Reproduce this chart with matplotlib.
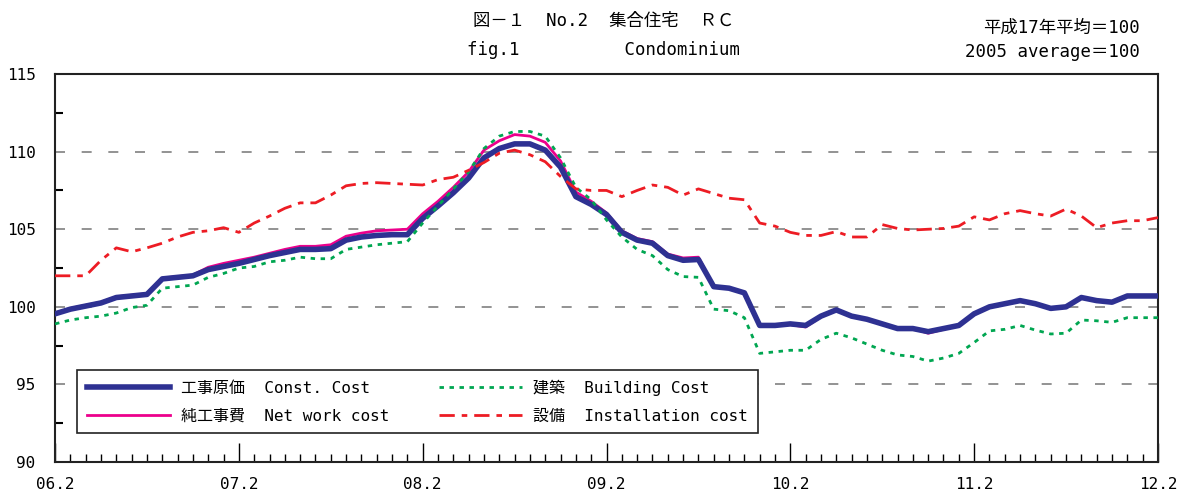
import matplotlib
matplotlib.use("Agg")
import matplotlib.pyplot as plt
from matplotlib.ticker import MultipleLocator

# monospace latin + japanese fallback, close to the gothic look of the original
plt.rcParams['font.family'] = ['DejaVu Sans Mono', 'Noto Sans CJK JP']

# monthly index, 06.2 .. 12.2
months = list(range(73))
tick_labels = ['06.2', '07.2', '08.2', '09.2', '10.2', '11.2', '12.2']

const_cost = [99.55, 99.85, 100.05, 100.25, 100.6, 100.7, 100.8, 101.8, 101.9, 102.0,
              102.4, 102.6, 102.8, 103.05, 103.3, 103.5, 103.7, 103.7, 103.75, 104.3,
              104.5, 104.6, 104.65, 104.65, 105.7, 106.5, 107.35, 108.3, 109.6, 110.2,
              110.5, 110.5, 110.1, 109.0, 107.1, 106.6, 105.95, 104.8, 104.3, 104.1,
              103.3, 103.0, 103.05, 101.3, 101.2, 100.9, 98.8, 98.8, 98.9, 98.8,
              99.4, 99.8, 99.4, 99.2, 98.9, 98.6, 98.6, 98.4, 98.6, 98.8,
              99.55, 100.0, 100.2, 100.4, 100.2, 99.9, 100.0, 100.6, 100.4, 100.3,
              100.7, 100.7, 100.7]

net_work = [99.6, 99.9, 100.1, 100.3, 100.65, 100.75, 100.85, 101.85, 101.95, 102.05,
            102.55, 102.8, 103.0, 103.2, 103.45, 103.7, 103.9, 103.9, 104.0, 104.55,
            104.75, 104.9, 104.95, 105.0, 106.0, 106.8, 107.7, 108.7, 110.1, 110.7,
            111.1, 111.0, 110.6, 109.4, 107.4, 106.8, 106.05, 104.9, 104.4, 104.2,
            103.4, 103.15, 103.2, 101.3, 101.2, 100.9, 98.8, 98.8, 98.85, 98.7,
            99.35, 99.8, 99.4, 99.2, 98.9, 98.6, 98.6, 98.3, 98.55, 98.8,
            99.5, 100.0, 100.2, 100.4, 100.2, 99.9, 100.0, 100.6, 100.4, 100.3,
            100.7, 100.7, 100.7]

building = [98.9, 99.15, 99.3, 99.4, 99.6, 99.95, 100.1, 101.2, 101.3, 101.4,
            101.9, 102.15, 102.5, 102.6, 102.9, 103.0, 103.2, 103.1, 103.1, 103.7,
            103.85, 104.0, 104.1, 104.2, 105.4, 106.5, 107.6, 108.7, 110.2, 111.0,
            111.3, 111.3, 111.0, 109.6, 107.7, 106.9, 105.6, 104.5, 103.7, 103.3,
            102.4, 101.95, 101.9, 99.85, 99.75, 99.3, 97.0, 97.1, 97.2, 97.2,
            97.9, 98.3, 98.0, 97.6, 97.2, 96.9, 96.8, 96.5, 96.7, 97.0,
            97.7, 98.45, 98.55, 98.8, 98.5, 98.25, 98.3, 99.15, 99.1, 99.0,
            99.3, 99.3, 99.3]

installation = [102.0, 102.0, 102.0, 103.0, 103.8, 103.55, 103.8, 104.1, 104.5, 104.8,
                104.9, 105.1, 104.8, 105.4, 105.85, 106.35, 106.7, 106.7, 107.2, 107.8,
                107.95, 108.0, 107.95, 107.9, 107.85, 108.2, 108.35, 108.8, 109.3, 109.9,
                110.1, 109.8, 109.35, 108.4, 107.6, 107.5, 107.5, 107.1, 107.5, 107.85,
                107.7, 107.2, 107.6, 107.3, 107.0, 106.9, 105.4, 105.2, 104.8, 104.6,
                104.6, 104.85, 104.5, 104.5, 105.3, 105.05, 104.95, 105.0, 105.05, 105.2,
                105.8, 105.6, 106.0, 106.2, 106.0, 105.85, 106.3, 105.85, 105.1, 105.4,
                105.55, 105.55, 105.75]

labels = ['工事原価  Const. Cost', '純工事費  Net work cost',
          '建築  Building Cost', '設備  Installation cost']

fig = plt.figure(figsize=(11.84, 4.97), dpi=100)
ax = fig.add_axes([0.0465, 0.0704, 0.9315, 0.7806])

for y in [95, 100, 105, 110]:
    ax.axhline(y, color='#808080', lw=1.2, dashes=(6, 10), zorder=1)

ax.plot(months, net_work, color='#EC008C', lw=2.0, zorder=3, label=labels[1])
ax.plot(months, const_cost, color='#2E3192', lw=4.0, zorder=4, label=labels[0])
ax.plot(months, building, color='#00A651', lw=2.0, dashes=(1.6, 2.0), zorder=5, label=labels[2])
ax.plot(months, installation, color='#ED1C24', lw=2.0, dashes=(5.5, 2.5, 2.0, 2.5), zorder=5,
        label=labels[3])

ax.set_xlim(0, 72)
ax.set_ylim(90, 115)
ax.set_xticks(range(0, 73, 12))
ax.set_xticklabels(tick_labels)
ax.xaxis.set_minor_locator(MultipleLocator(1))
ax.yaxis.set_major_locator(MultipleLocator(5))
ax.yaxis.set_minor_locator(MultipleLocator(2.5))
ax.tick_params(axis='x', which='major', direction='in', length=14, width=1, labelsize=11.5, pad=11)
ax.tick_params(axis='x', which='minor', direction='in', length=6, width=1)
ax.tick_params(axis='y', which='major', direction='in', length=0, labelsize=11.5, pad=14)
ax.tick_params(axis='y', which='minor', direction='in', length=6, width=1.5)
for s in ax.spines.values():
    s.set_linewidth(1.5)
    s.set_color('#222222')

h, l = ax.get_legend_handles_labels()
order = [1, 0, 2, 3]
leg = ax.legend([h[i] for i in order], [l[i] for i in order], ncol=2,
                loc='lower left', bbox_to_anchor=(0.02, 0.075), fontsize=11.5,
                handlelength=5.2, handletextpad=0.7, columnspacing=3.1,
                labelspacing=0.8, borderpad=0.6, borderaxespad=0,
                frameon=True, fancybox=False, framealpha=1.0)
leg.get_frame().set_edgecolor('#222222')
leg.get_frame().set_linewidth(1.2)
leg.set_zorder(10)

fig.text(0.51, 0.958, '図－１  No.2  集合住宅  ＲＣ', ha='center', va='center', fontsize=12.5)
fig.text(0.51, 0.9, 'fig.1          Condominium', ha='center', va='center', fontsize=12.5)
fig.text(0.963, 0.945, '平成17年平均＝100', ha='right', va='center', fontsize=12.5)
fig.text(0.963, 0.895, '2005 average＝100', ha='right', va='center', fontsize=12.5)

fig.savefig('out.png', dpi=100)
